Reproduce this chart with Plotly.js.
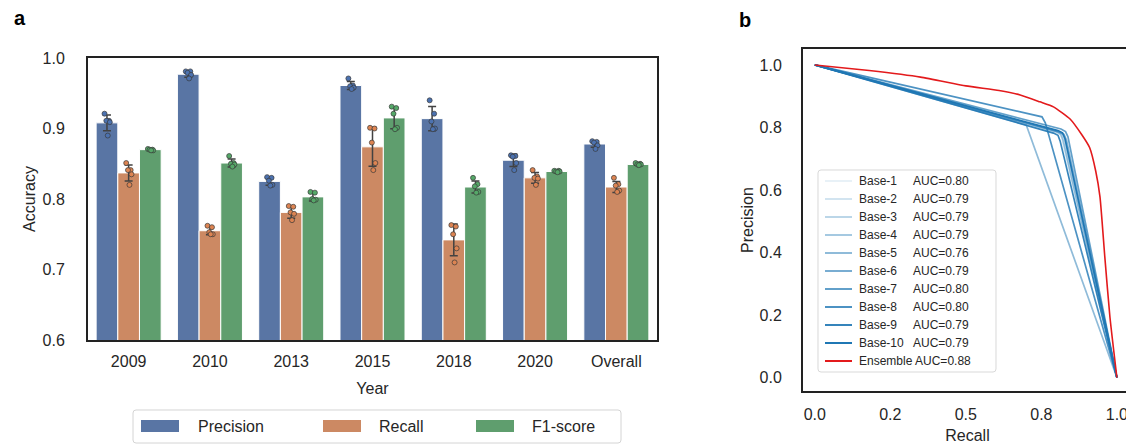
<!DOCTYPE html>
<html><head><meta charset="utf-8">
<script src="https://cdn.plot.ly/plotly-3.0.1.min.js"></script>
<style>html,body{margin:0;padding:0;overflow:hidden;background:#fff;width:1126px;height:444px}#chart{width:1140px;height:444px}</style>
</head><body><div id="chart"></div>
<script>
// ---------- Panel a data ----------
const years = ['2009','2010','2013','2015','2018','2020','Overall'];
const metrics = ['Precision','Recall','F1-score'];
const precisionMean = [0.908,0.977,0.825,0.961,0.914,0.855,0.878];
const recallMean    = [0.837,0.755,0.781,0.874,0.742,0.830,0.817];
const f1Mean        = [0.870,0.851,0.803,0.915,0.817,0.839,0.849];
const precisionFolds = [
  [0.921,0.911,0.911,0.909,0.890],[0.981,0.981,0.979,0.976,0.971],[0.831,0.830,0.826,0.820,0.819],
  [0.971,0.961,0.960,0.958,0.956],[0.940,0.921,0.910,0.900,0.899],[0.862,0.861,0.860,0.851,0.841],
  [0.882,0.881,0.880,0.876,0.871]];
const recallFolds = [
  [0.851,0.841,0.841,0.835,0.820],[0.762,0.760,0.753,0.750,0.750],[0.790,0.789,0.781,0.779,0.770],
  [0.901,0.900,0.880,0.851,0.841],[0.763,0.761,0.750,0.730,0.710],[0.841,0.832,0.830,0.829,0.820],
  [0.830,0.821,0.819,0.812,0.810]];
const f1Folds = [
  [0.871,0.870,0.870,0.869,0.869],[0.861,0.851,0.850,0.849,0.846],[0.810,0.809,0.800,0.799,0.798],
  [0.931,0.929,0.921,0.901,0.899],[0.830,0.821,0.818,0.810,0.809],[0.840,0.840,0.839,0.839,0.838],
  [0.851,0.850,0.849,0.849,0.848]];

// ---------- Panel b data ----------
const baseNames = ['Base-1','Base-2','Base-3','Base-4','Base-5','Base-6','Base-7','Base-8','Base-9','Base-10'];
const baseAUC = ['0.80','0.79','0.79','0.79','0.76','0.79','0.80','0.80','0.79','0.79'];
const baseRecall = [
  [0,0.800,0.815,0.824,1],[0,0.795,0.810,0.818,1],[0,0.805,0.820,0.828,1],[0,0.800,0.815,0.822,1],
  [0,0.700,1],[0,0.810,0.825,0.833,1],[0,0.815,0.830,0.838,1],[0,0.735,0.752,0.763,1],
  [0,0.790,0.805,0.812,1],[0,0.805,0.820,0.828,1]];
const basePrecision = [
  [1,0.792,0.785,0.768,0],[1,0.790,0.783,0.765,0],[1,0.788,0.780,0.762,0],[1,0.785,0.778,0.760,0],
  [1,0.808,0],[1,0.785,0.778,0.760,0],[1,0.795,0.787,0.770,0],[1,0.840,0.834,0.815,0],
  [1,0.782,0.775,0.757,0],[1,0.790,0.783,0.765,0]];
const ensembleName = 'Ensemble';
const ensembleAUC = '0.88';
const ensembleRecall    = [0,0.18,0.35,0.50,0.61,0.68,0.745,0.79,0.845,0.885,0.91,0.93,0.944,0.96,0.977,1.0];
const ensemblePrecision = [1.0,0.982,0.961,0.933,0.918,0.904,0.882,0.866,0.827,0.775,0.735,0.66,0.578,0.386,0.193,0.0];

// ---------- styling ----------
const W = 1140, H = 444;
const X = p => p / W, Y = p => 1 - p / H;
const F = 'Liberation Sans, Arial, sans-serif';
const TXT = '#262626';
const barColors = ['#5975A4','#CC8963','#5F9E6E'];
const dotColors = ['#4C72B0','#DD8452','#55A868'];
const blue = a => 'rgba(31,119,180,' + a + ')';
const red = '#e31a1c';

function sd(arr){const m=arr.reduce((a,b)=>a+b,0)/arr.length;return Math.sqrt(arr.reduce((a,b)=>a+(b-m)*(b-m),0)/(arr.length-1));}

const means = [precisionMean, recallMean, f1Mean];
const folds = [precisionFolds, recallFolds, f1Folds];
const idx = years.map((_, i) => i);
const traces = [];
metrics.forEach((m, s) => {
  traces.push({type:'bar', x: idx, y: means[s], name: m, xaxis:'x', yaxis:'y', showlegend:false,
    marker:{color: barColors[s], line:{color:'#ffffff', width:1}},
    error_y:{type:'data', array: folds[s].map(sd), visible:true, color:'#424242', thickness:1.5, width:4}});
});
const jit = [-0.03, 0.025, -0.008, 0.035, 0.01];
const slot = 0.8 / 3;
metrics.forEach((m, s) => {
  const xs = [], ys = [];
  folds[s].forEach((arr, i) => arr.forEach((v, k) => { xs.push(i + (s - 1) * slot + jit[k]); ys.push(v); }));
  traces.push({type:'scatter', mode:'markers', x: xs, y: ys, xaxis:'x', yaxis:'y', showlegend:false,
    marker:{color: dotColors[s], size:5, line:{color:'#3a3a3a', width:0.7}}, hoverinfo:'y'});
});
baseNames.forEach((n, i) => {
  traces.push({type:'scatter', mode:'lines', x: baseRecall[i], y: basePrecision[i], name: n, xaxis:'x2', yaxis:'y2',
    showlegend:false, line:{color: blue((i + 1) / 10), width:1.7}});
});
traces.push({type:'scatter', mode:'lines', x: ensembleRecall, y: ensemblePrecision, name: ensembleName, xaxis:'x2', yaxis:'y2',
  showlegend:false, line:{color: red, width:1.6, shape:'spline', smoothing:0.5}});

// ---------- custom legends ----------
function roundRect(x0,y0,x1,y1,r){
  const p=(x,y)=>X(x).toFixed(5)+','+Y(y).toFixed(5);
  return 'M'+p(x0+r,y0)+' L'+p(x1-r,y0)+' Q'+p(x1,y0)+' '+p(x1,y0+r)+' L'+p(x1,y1-r)+' Q'+p(x1,y1)+' '+p(x1-r,y1)+
    ' L'+p(x0+r,y1)+' Q'+p(x0,y1)+' '+p(x0,y1-r)+' L'+p(x0,y0+r)+' Q'+p(x0,y0)+' '+p(x0+r,y0)+' Z';
}
const shapes = [];
const annotations = [];
// legend a
shapes.push({type:'path', xref:'paper', yref:'paper', path: roundRect(133,410,621,443,3), line:{color:'#d4d4d4', width:1}, fillcolor:'#ffffff', layer:'above'});
const swX = [141, 323, 476], txX = [196, 377, 530];
metrics.forEach((m, s) => {
  shapes.push({type:'rect', xref:'paper', yref:'paper', x0:X(swX[s]), x1:X(swX[s]+38), y0:Y(432), y1:Y(420), fillcolor: barColors[s], line:{width:0}, layer:'above'});
  annotations.push({xref:'paper', yref:'paper', x:X(txX[s]), y:Y(426), xanchor:'left', yanchor:'middle', showarrow:false, text:m, font:{family:F, size:16, color:TXT}});
});
// legend b
shapes.push({type:'path', xref:'paper', yref:'paper', path: roundRect(818,170,996,372,3), line:{color:'#d9d9d9', width:1}, fillcolor:'rgba(255,255,255,0.85)', layer:'above'});
const rowY = i => 181 + 18 * i;
baseNames.forEach((n, i) => {
  shapes.push({type:'line', xref:'paper', yref:'paper', x0:X(825), x1:X(852), y0:Y(rowY(i)), y1:Y(rowY(i)), line:{color: blue((i + 1) / 10), width:2}, layer:'above'});
  annotations.push({xref:'paper', yref:'paper', x:X(857), y:Y(rowY(i)), xanchor:'left', yanchor:'middle', showarrow:false, text:n, font:{family:F, size:12, color:TXT}});
  annotations.push({xref:'paper', yref:'paper', x:X(911), y:Y(rowY(i)), xanchor:'left', yanchor:'middle', showarrow:false, text:'AUC=' + baseAUC[i], font:{family:F, size:12, color:TXT}});
});
shapes.push({type:'line', xref:'paper', yref:'paper', x0:X(825), x1:X(852), y0:Y(rowY(10)), y1:Y(rowY(10)), line:{color: red, width:2}, layer:'above'});
annotations.push({xref:'paper', yref:'paper', x:X(857), y:Y(rowY(10)), xanchor:'left', yanchor:'middle', showarrow:false, text:ensembleName + ' AUC=' + ensembleAUC, font:{family:F, size:12, color:TXT}});
// panel labels
annotations.push({xref:'paper', yref:'paper', x:X(19.5), y:Y(18), xanchor:'center', yanchor:'middle', showarrow:false, text:'<b>a</b>', font:{family:F, size:20, color:'#000'}});
annotations.push({xref:'paper', yref:'paper', x:X(744.5), y:Y(20), xanchor:'center', yanchor:'middle', showarrow:false, text:'<b>b</b>', font:{family:F, size:20, color:'#000'}});

const axisCommon = {showline:true, mirror:true, linecolor:'#222222', linewidth:2, showgrid:false, zeroline:false, ticks:'',
  tickfont:{family:F, size:16, color:TXT}, automargin:false, fixedrange:true};
const tfont = {family:F, size:16, color:TXT};
const layout = {
  width:W, height:H, margin:{l:0, r:0, t:0, b:0}, paper_bgcolor:'#ffffff', plot_bgcolor:'#ffffff', showlegend:false,
  barmode:'group', bargap:0.2, bargroupgap:0, font:{family:F, color:TXT},
  xaxis:Object.assign({}, axisCommon, {domain:[X(88), X(657)], range:[-0.5, 6.5], tickmode:'array', tickvals:idx, ticktext:years,
    ticklabelstandoff:6, anchor:'y', title:{text:'Year', font:tfont, standoff:14}}),
  yaxis:Object.assign({}, axisCommon, {domain:[Y(340), Y(58)], range:[0.6, 1.0], tickmode:'array', tickvals:[0.6,0.7,0.8,0.9,1.0],
    tickformat:'.1f', ticklabelstandoff:18, anchor:'x', title:{text:'Accuracy', font:tfont, standoff:3}}),
  xaxis2:Object.assign({}, axisCommon, {domain:[X(803), X(1132)], range:[-0.039, 1.05], tickmode:'array', tickvals:[0,0.25,0.5,0.75,1.0],
    ticktext:['0.0','0.2','0.5','0.8','1.0'], ticklabelstandoff:8, anchor:'y2', title:{text:'Recall', font:tfont, standoff:10}}),
  yaxis2:Object.assign({}, axisCommon, {domain:[Y(391), Y(49)], range:[-0.043, 1.051], tickmode:'array', tickvals:[0,0.2,0.4,0.6,0.8,1.0],
    tickformat:'.1f', ticklabelstandoff:16, anchor:'x2', title:{text:'Precision', font:tfont, standoff:2}}),
  shapes: shapes, annotations: annotations
};
Plotly.newPlot('chart', traces, layout, {staticPlot:true, displayModeBar:false});
</script></body></html>
